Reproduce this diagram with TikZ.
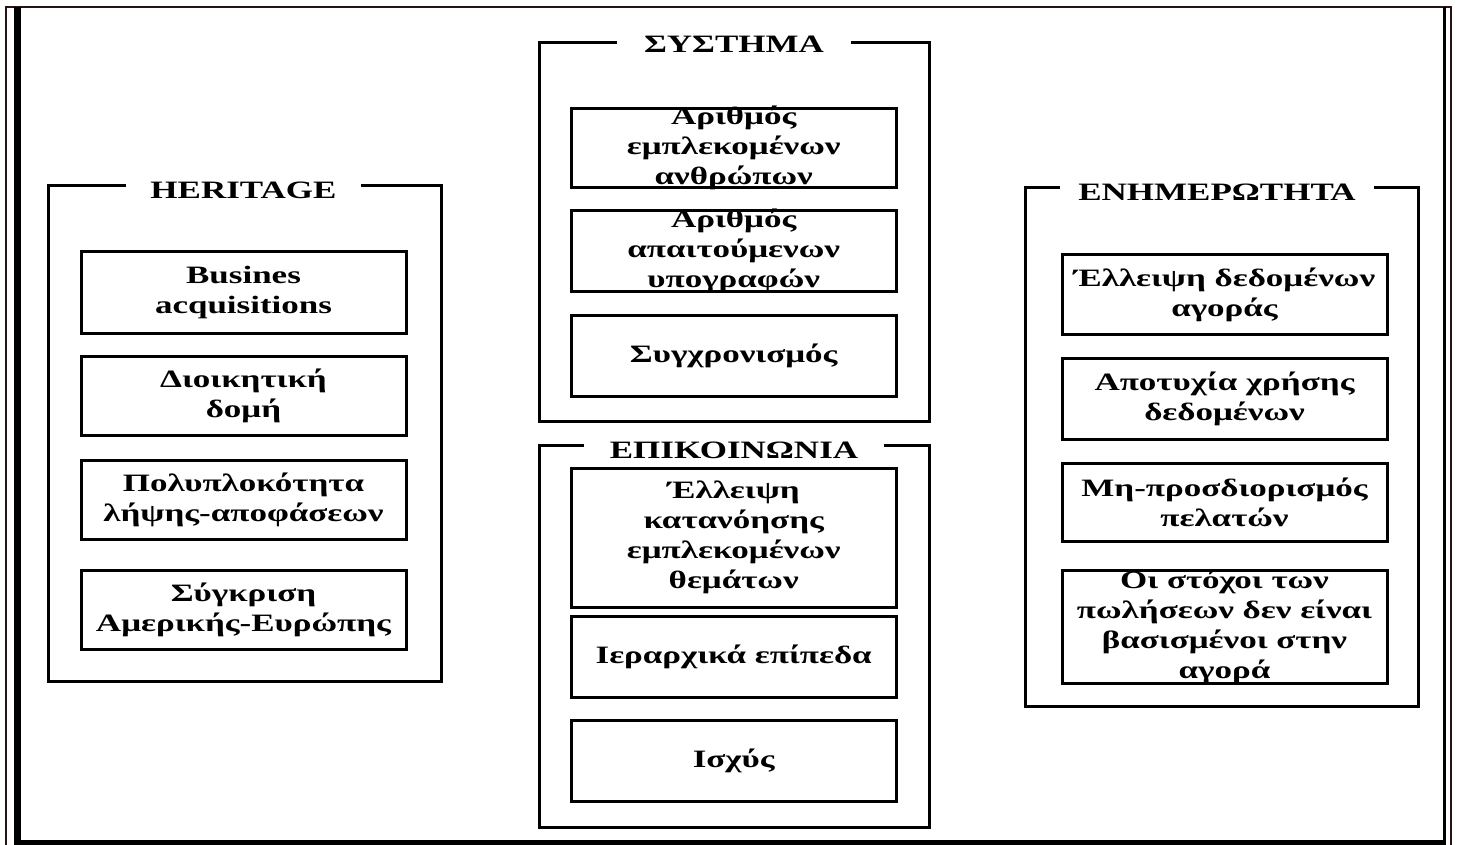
\documentclass[tikz,border=0pt]{standalone}
\usepackage{fontspec}
\setmainfont{Liberation Serif}[FakeStretch=1.4]
\definecolor{framebrown}{RGB}{40,18,18}
\begin{document}
\begin{tikzpicture}[x=1pt,y=-1pt,
  box/.style={draw, line width=3pt, inner sep=0pt, minimum width=325pt},
  txt/.style={font=\bfseries\fontsize{25}{30}\selectfont, align=center, inner sep=0pt},
  grp/.style={draw, line width=3pt, inner sep=0pt},
  grptitle/.style={font=\bfseries\fontsize{25}{30}\selectfont, fill=white, inner sep=0pt,
                   minimum height=24pt, text height=16.5pt, text depth=0pt},
  thinframe/.style={draw=framebrown, line width=2pt},
]
\useasboundingbox (0,0) rectangle (1458,845);

% outer double frame
\draw[thinframe] (6,850) -- (6,7) -- (1450.5,7) -- (1450.5,850);
\draw[line width=7pt] (17.5,7) -- (17.5,850);
\draw[line width=5pt] (14,842.5) -- (1446,842.5);
\draw[line width=3pt] (1444.5,7) -- (1444.5,850);

% HERITAGE
\node[grp, minimum width=393pt, minimum height=496.3pt] (gH) at (245.2,433.2) {};
\node[grptitle, minimum width=235pt] (tH) at (243.5,190) {HERITAGE};
\node[box, minimum height=82.3pt, label={[txt]center:{Busines\\acquisitions}}] (h1) at (243.5,292.2) {};
\node[box, minimum height=79pt, label={[txt]center:{Διοικητική\\δομή}}] (h2) at (243.5,395.5) {};
\node[box, minimum height=78.3pt, label={[txt]center:{Πολυπλοκότητα\\λήψης-αποφάσεων}}] (h3) at (243.5,499.9) {};
\node[box, minimum height=78.7pt, label={[txt]center:{Σύγκριση\\Αμερικής-Ευρώπης}}] (h4) at (243.5,609.7) {};

% ΣΥΣΤΗΜΑ
\node[grp, minimum width=390pt, minimum height=378.2pt] (gS) at (734,231.9) {};
\node[grptitle, minimum width=234pt] (tS) at (734,44.5) {ΣΥΣΤΗΜΑ};
\node[box, minimum height=78.7pt, label={[txt]center:{Αριθμός\\εμπλεκομένων\\ανθρώπων}}] (s1) at (733.7,147.7) {};
\node[box, minimum height=80.5pt, label={[txt]center:{Αριθμός\\απαιτούμενων\\υπογραφών}}] (s2) at (733.7,250.8) {};
\node[box, minimum height=80.5pt, label={[txt]center:{Συγχρονισμός}}] (s3) at (733.7,355.8) {};

% ΕΠΙΚΟΙΝΩΝΙΑ
\node[grp, minimum width=390pt, minimum height=382.3pt] (gE) at (734,636.2) {};
\node[grptitle, minimum width=300pt] (tE) at (734,450) {ΕΠΙΚΟΙΝΩΝΙΑ};
\node[box, minimum height=138.7pt, label={[txt]center:{Έλλειψη\\κατανόησης\\εμπλεκομένων\\θεμάτων}}] (e1) at (733.7,537.7) {};
\node[box, minimum height=81.5pt, label={[txt]center:{Ιεραρχικά επίπεδα}}] (e2) at (733.7,656.8) {};
\node[box, minimum height=80.5pt, label={[txt]center:{Ισχύς}}] (e3) at (733.7,760.8) {};

% ΕΝΗΜΕΡΩΤΗΤΑ
\node[grp, minimum width=393.5pt, minimum height=519.1pt] (gN) at (1222,446.8) {};
\node[grptitle, minimum width=314pt] (tN) at (1217,192.5) {ΕΝΗΜΕΡΩΤΗΤΑ};
\node[box, minimum height=79.8pt, label={[txt]center:{Έλλειψη δεδομένων\\αγοράς}}] (n1) at (1224.5,294.6) {};
\node[box, minimum height=80.4pt, label={[txt]center:{Αποτυχία χρήσης\\δεδομένων}}] (n2) at (1224.5,399) {};
\node[box, minimum height=77.4pt, label={[txt]center:{Μη-προσδιορισμός\\πελατών}}] (n3) at (1224.5,502.5) {};
\node[box, minimum height=113.3pt, label={[txt]center:{Οι στόχοι των\\πωλήσεων δεν είναι\\βασισμένοι στην\\αγορά}}] (n4) at (1224.5,627.2) {};
\end{tikzpicture}
\end{document}
